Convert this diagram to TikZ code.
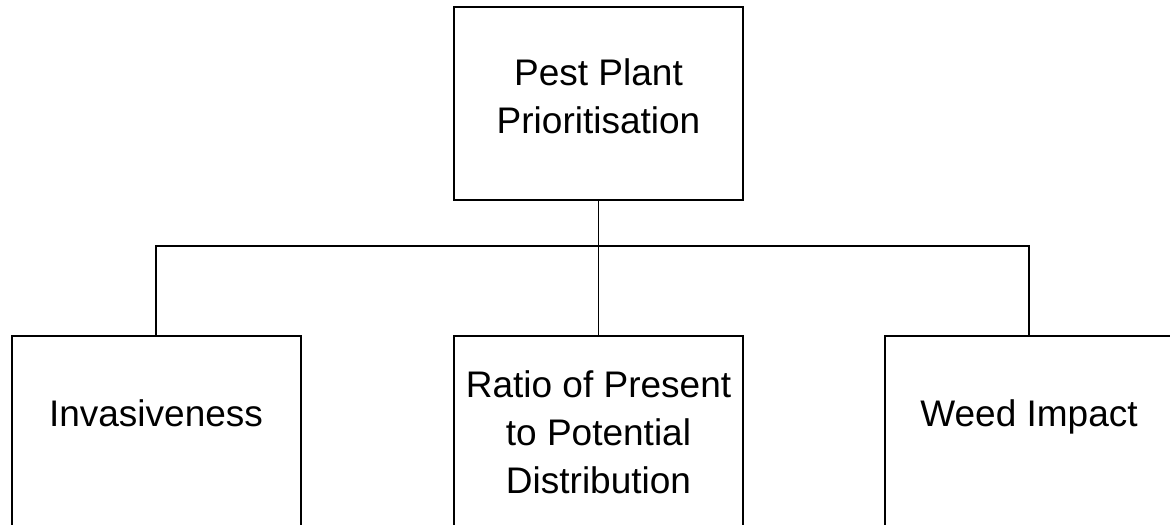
\documentclass[tikz,border=0pt]{standalone}
\usepackage{fontspec}
\setmainfont{Liberation Sans}

\begin{document}
\begin{tikzpicture}[x=0.5pt,y=-0.5pt,
  box/.style={draw, line width=1pt, minimum width=144.5pt, minimum height=96.25pt, inner sep=0pt},
  lowbox/.style={draw, line width=1pt, minimum width=144.5pt, minimum height=120pt, inner sep=0pt, anchor=north},
  word/.style={align=center, inner sep=0pt, font=\fontsize{18.5}{24}\selectfont},
  link/.style={line width=0.6pt}]
\useasboundingbox (0,0) rectangle (1170,524);
\clip (0,0) rectangle (1170,524);
\node [box] (top) at (598.5,103.75) {};
\node [word] (toptxt) at (598.5,96) {Pest Plant\\Prioritisation};
\node [lowbox] (inv) at (156,335) {};
\node [word] (invtxt) at (156,413) {Invasiveness};
\node [lowbox] (ratio) at (598.5,335) {};
\node [word] (ratiotxt) at (598.5,432) {Ratio of Present\\to Potential\\Distribution};
\node [lowbox] (weed) at (1029,335) {};
\node [word] (weedtxt) at (1029,417) {Weed Impact};
\coordinate (bus) at (598.5,246);
\draw [link] (top.south) -- (ratio.north);
\draw [link] (inv.north) -- (inv.north |- bus) -- (weed.north |- bus) -- (weed.north);
\end{tikzpicture}
\end{document}
